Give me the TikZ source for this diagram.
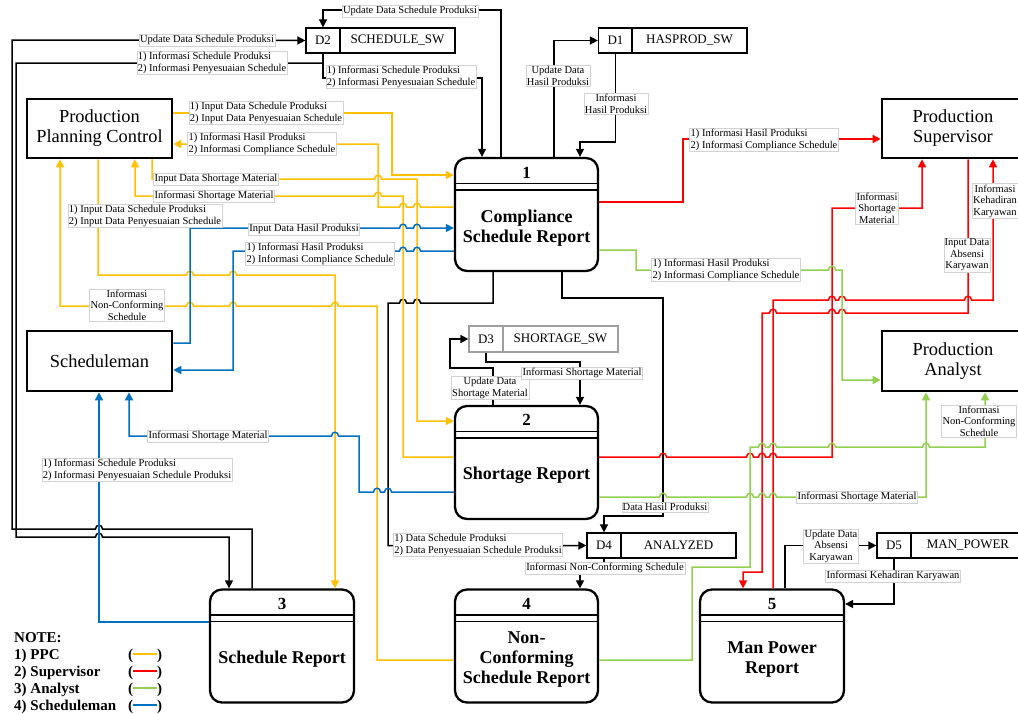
\documentclass[tikz,border=0pt]{standalone}
\usepackage{fontspec}
\setmainfont{Liberation Serif}
\usetikzlibrary{arrows.meta,calc}

\definecolor{ppc}{HTML}{FFC000}
\definecolor{sup}{HTML}{FF0000}
\definecolor{ana}{HTML}{92D050}
\definecolor{sch}{HTML}{0070C0}

% small bridge where a horizontal flow jumps over a vertical one
\newcommand\hopR[2]{-- (#1-3.5,#2) .. controls +(0,-5) and +(0,-5) .. (#1+3.5,#2)}
\newcommand\hopL[2]{-- (#1+3.5,#2) .. controls +(0,-5) and +(0,-5) .. (#1-3.5,#2)}

\begin{document}
\begin{tikzpicture}[x=1pt,y=-1pt,
  flow/.style={line width=1.5pt,-{Triangle[length=8pt,width=8pt]}},
  entity/.style={draw,line width=2.6pt,align=center,inner sep=0pt,
    font=\fontsize{18.4}{20}\selectfont},
  proc/.style={draw,line width=2.3pt,rounded corners=12pt,
    minimum width=143pt,minimum height=113pt,inner sep=0pt},
  pnum/.style={font=\bfseries\fontsize{17}{19}\selectfont,inner sep=0pt},
  ptitle/.style={font=\bfseries\fontsize{18}{20}\selectfont,align=center,inner sep=0pt},
  dsid/.style={draw,line width=1.2pt,minimum width=34pt,minimum height=25pt,
    inner sep=0pt,font=\fontsize{13}{15}\selectfont},
  dsname/.style={dsid,minimum width=115pt},
  lbl/.style={fill=white,draw=gray!35,line width=0.4pt,inner sep=1pt,
    font=\fontsize{10.5}{11.5}\selectfont,align=center},
  lbll/.style={lbl,align=left},
  leg/.style={anchor=base west,inner sep=0pt,font=\bfseries\fontsize{15}{17}\selectfont},
]
\useasboundingbox (0,0) rectangle (1018,713);
\fill[white] (0,0) rectangle (1018,713);

% ---------- external entities
\node[entity,minimum width=145pt,minimum height=59pt] (ppc) at (99.5,128.5) {Production\\Planning Control};
\node[entity,minimum width=145pt,minimum height=60pt] (sched) at (99.5,361) {Scheduleman};
\node[entity,minimum width=142pt,minimum height=59pt] (sup) at (953,128.5) {Production\\Supervisor};
\node[entity,minimum width=142pt,minimum height=60pt] (ana) at (953,361) {Production\\Analyst};

% ---------- processes
\node[proc] (p1) at (526.5,214.5) {};
\node[proc] (p2) at (526.5,462.5) {};
\node[proc,minimum width=144pt] (p3) at (282,646) {};
\node[proc] (p4) at (526.5,646) {};
\node[proc,minimum width=144pt] (p5) at (772,646) {};
\foreach \p in {p1,p2,p3,p4,p5}{
  \draw[line width=1.6pt] ($(\p.north west)+(0,26.5)$) -- ($(\p.north east)+(0,26.5)$);
  \draw[line width=1.6pt] ($(\p.north west)+(0,33)$) -- ($(\p.north east)+(0,33)$);
}
\node[pnum] (p1n) at ($(p1.north)+(0,16)$) {1};
\node[pnum] (p2n) at ($(p2.north)+(0,15)$) {2};
\node[pnum] (p3n) at ($(p3.north)+(0,16)$) {3};
\node[pnum] (p4n) at ($(p4.north)+(0,16)$) {4};
\node[pnum] (p5n) at ($(p5.north)+(0,16)$) {5};
\node[ptitle] (p1t) at ($(p1.north)+(0,71)$) {Compliance\\Schedule Report};
\node[ptitle] (p2t) at ($(p2.north)+(0,70)$) {Shortage Report};
\node[ptitle] (p3t) at ($(p3.north)+(0,71)$) {Schedule Report};
\node[ptitle] (p4t) at ($(p4.north)+(0,71)$) {Non-\\Conforming\\Schedule Report};
\node[ptitle] (p5t) at ($(p5.north)+(0,71)$) {Man Power\\Report};

% ---------- data stores
\node[dsid] (d2id) at (323,40.5) {D2};
\node[dsname] (d2) at (397.5,40.5) {SCHEDULE\_SW};
\node[dsid] (d1id) at (615.5,40.5) {D1};
\node[dsname] (d1) at (689.5,40.5) {HASPROD\_SW};
\node[dsid,draw=gray!75,minimum height=26pt] (d3id) at (486,339) {D3};
\node[dsname,draw=gray!75,minimum height=26pt] (d3) at (560.5,339) {SHORTAGE\_SW};
\node[dsid] (d4id) at (604,545.5) {D4};
\node[dsname] (d4) at (678.5,545.5) {ANALYZED};
\node[dsid] (d5id) at (894,545.5) {D5};
\node[dsname,minimum width=114pt] (d5) at (968,545.5) {MAN\_POWER};

% ---------- black flows (data stores)
\draw[flow] (p3.north -| 252,0) -- (252,529) \hopL{99}{529} -- (12,529) -- (12,40) -- (d2id.west);
\draw[flow] (d2id.south) -- (d2id.south |- 0,63) -- (16,63) -- (16,537) \hopR{99}{537} -- (229,537) -- (p3.north -| 229,0);
\draw[flow] (d2id.south) |- (482,78) -- (p1.north -| 482,0);
\draw[flow] (p1.north -| 501,0) -- (501,10) -| (d2id.north);
\draw[flow] (p1.north -| 554,0) |- (d1id.west);
\draw[flow] (d1id.south) |- (580,142) -- (p1.north -| 580,0);
\draw[flow] (p1.south -| 493,0) -- (493,303) \hopL{417}{303} \hopL{403}{303} -- (388,303) |- (d4id.west);
\draw[flow] (p1.south -| 562,0) -- (562,298) -- (663,298) -- (663,516) -| (d4id.north);
\draw[flow] (p2.north -| 493,0) -- (493,368) -- (450,368) |- (d3id.west);
\draw[flow] (d3id.south) |- (580,362) -- (p2.north -| 580,0);
\draw[flow] (d4id.south) |- (580,573) -- (p4.north -| 580,0);
\draw[flow] (p5.north -| 785,0) |- (d5id.west);
\draw[flow] (d5id.south) |- (p5.east |- 0,604);

% ---------- supervisor flows
\draw[flow,sup] (p1.east |- 0,202) -- (683,202) |- (sup.west |- 0,139);
\draw[flow,sup] (p2.east |- 0,457) \hopR{663}{457} \hopR{750}{457} \hopR{762}{457} \hopR{773}{457}
  -- (832,457) -- (832,208) -| (sup.south -| 922,0);
\draw[flow,sup] (p5.north -| 773,0) -- (773,300) \hopR{832}{300} \hopR{842}{300} \hopR{968}{300}
  -- (993,300) -- (sup.south -| 993,0);
\draw[flow,sup] (sup.south -| 968,0) -- (968,313) \hopL{842}{313} \hopL{832}{313} \hopL{773}{313}
  -- (762,313) -- (762,572) -- (743,572) -- (p5.north -| 743,0);

% ---------- analyst flows
\draw[flow,ana] (p1.east |- 0,250) -- (636,250) -- (636,270) \hopR{832}{270} -- (842,270) |- (ana.west |- 0,380);
\draw[flow,ana] (p4.east |- 0,660) -- (692,660) -- (692,567) -- (750,567) -- (750,447)
  \hopR{762}{447} \hopR{773}{447} \hopR{832}{447} \hopR{926}{447} -- (985,447) -- (ana.south -| 985,0);
\draw[flow,ana] (p2.east |- 0,497) \hopR{663}{497} \hopR{750}{497} \hopR{762}{497} \hopR{773}{497}
  -- (926,497) -- (ana.south -| 926,0);

% ---------- PPC flows
\draw[flow,ppc] (ppc.east |- 0,113) -- (392,113) |- (p1.west |- 0,175);
\draw[flow,ppc] (p1.west |- 0,207) \hopL{417}{207} \hopL{403}{207} -- (378,207) |- (ppc.east |- 0,144);
\draw[flow,ppc] (ppc.south -| 152,0) -- (152,179) \hopR{378}{179} -- (417,179) |- (p2.west |- 0,421);
\draw[flow,ppc] (p2.west |- 0,457) -- (403,457) -- (403,196) \hopL{378}{196} -- (135,196) -- (ppc.south -| 135,0);
\draw[flow,ppc] (ppc.south -| 98,0) -- (98,275) \hopR{190}{275} \hopR{233}{275} -- (335,275) -- (p3.north -| 335,0);
\draw[flow,ppc] (p4.west |- 0,660) -- (377,660) -- (377,306) \hopL{335}{306} \hopL{233}{306} \hopL{190}{306}
  -- (60,306) -- (ppc.south -| 60,0);

% ---------- scheduleman flows
\draw[flow,sch] (sched.east |- 0,343) -- (190,343) -- (190,228) \hopR{403}{228} \hopR{417}{228} -- (p1.west |- 0,228);
\draw[flow,sch] (p1.west |- 0,251) \hopL{417}{251} \hopL{403}{251} -- (233,251) |- (sched.east |- 0,370);
\draw[flow,sch] (p2.west |- 0,492) \hopL{388}{492} \hopL{377}{492} -- (359,492) -- (359,436) \hopL{335}{436}
  -- (129,436) -- (sched.south -| 129,0);
\draw[flow,sch] (p3.west |- 0,622) -| (sched.south -| 99,0);

% ---------- flow labels
\node[lbl] (lk1) at (207,40) {Update Data Schedule Produksi};
\node[lbll] (lk2) at (212,63) {1) Informasi Schedule Produksi\\2) Informasi Penyesuaian Schedule};
\node[lbll] (lk2b) at (401,77) {1) Informasi Schedule Produksi\\2) Informasi Penyesuaian Schedule};
\node[lbl] (lk3) at (410,11) {Update Data Schedule Produksi};
\node[lbl] (lk4) at (558,76) {Update Data\\Hasil Produksi};
\node[lbl] (lk5) at (616,104) {Informasi\\Hasil Produksi};
\node[lbll] (lk6) at (478,545) {1) Data Schedule Produksi\\2) Data Penyesuaian Schedule Produksi};
\node[lbl] (lk7) at (665,507) {Data Hasil Produksi};
\node[lbl] (lk8) at (490,388) {Update Data\\Shortage Material};
\node[lbl] (lk9) at (582,373) {Informasi Shortage Material};
\node[lbl] (lk10) at (605,568) {Informasi Non-Conforming Schedule};
\node[lbl] (lk11) at (831,546) {Update Data\\Absensi\\Karyawan};
\node[lbl] (lk12) at (893,576) {Informasi Kehadiran Karyawan};

\node[lbll] (lr1) at (764,140) {1) Informasi Hasil Produksi\\2) Informasi Compliance Schedule};
\node[lbl] (lr2) at (877,208) {Informasi\\Shortage\\Material};
\node[lbl] (lr3) at (995,201) {Informasi\\Kehadiran\\Karyawan};
\node[lbl] (lr4) at (967,255) {Input Data\\Absensi\\Karyawan};

\node[lbll] (la1) at (726,270) {1) Informasi Hasil Produksi\\2) Informasi Compliance Schedule};
\node[lbl] (la2) at (979,421) {Informasi\\Non-Conforming\\Schedule};
\node[lbl] (la3) at (857,497) {Informasi Shortage Material};

\node[lbll] (ly1) at (266,113) {1) Input Data Schedule Produksi\\2) Input Data Penyesuaian Schedule};
\node[lbll] (ly2) at (262,144) {1) Informasi Hasil Produksi\\2) Informasi Compliance Schedule};
\node[lbl] (ly6) at (216,179) {Input Data Shortage Material};
\node[lbl] (ly3) at (214,196) {Informasi Shortage Material};
\node[lbll] (ly4) at (145,216) {1) Input Data Schedule Produksi\\2) Input Data Penyesuaian Schedule};
\node[lbl] (ly5) at (127,305) {Informasi\\Non-Conforming\\Schedule};

\node[lbl] (lb1) at (304,229) {Input Data Hasil Produksi};
\node[lbll] (lb2) at (320,254) {1) Informasi Hasil Produksi\\2) Informasi Compliance Schedule};
\node[lbl] (lb3) at (208,436) {Informasi Shortage Material};
\node[lbll] (lb4) at (137,470) {1) Informasi Schedule Produksi\\2) Informasi Penyesuaian Schedule Produksi};

% ---------- legend
\node[leg] (note) at (14,642) {NOTE:};
\foreach \i/\t/\c/\y in {1/{1) PPC}/ppc/659, 2/{2) Supervisor}/sup/676,
                         3/{3) Analyst}/ana/693, 4/{4) Scheduleman}/sch/710}{
  \node[leg] (key\i) at (14,\y) {\t};
  \node[leg] (keyp\i) at (128,\y) {(\hspace{24pt})};
  \draw[\c,line width=1.6pt] ($(keyp\i.base)+(-12,-5)$) -- ($(keyp\i.base)+(12,-5)$);
}
\end{tikzpicture}
\end{document}
